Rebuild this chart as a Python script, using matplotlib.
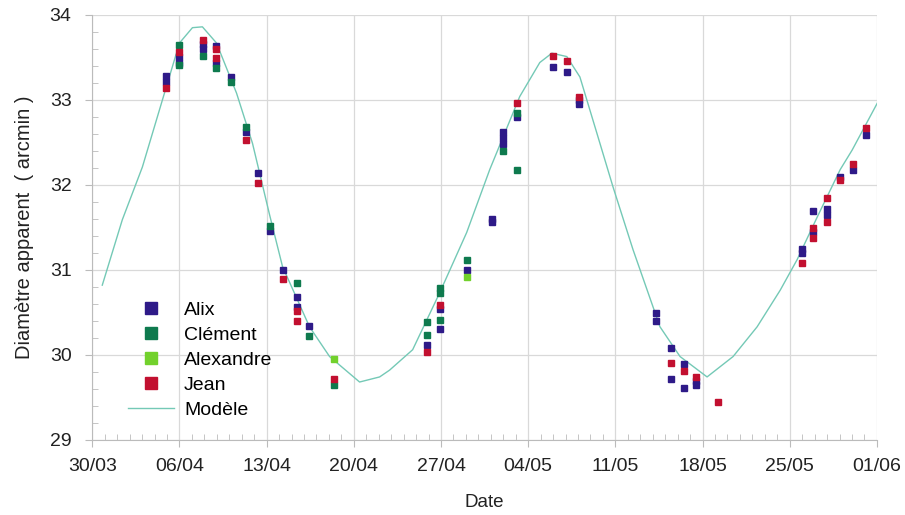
import matplotlib
matplotlib.use("Agg")
import matplotlib.pyplot as plt
from matplotlib.ticker import MultipleLocator

plt.rcParams['font.family'] = ['Liberation Sans', 'DejaVu Sans']

# x values: days since 30/03
date_labels = ["30/03", "06/04", "13/04", "20/04", "27/04", "04/05", "11/05", "18/05", "25/05", "01/06"]
date_ticks = [0, 7, 14, 21, 28, 35, 42, 49, 56, 63]

alix_x = [5.95, 5.95, 6.95, 6.95, 8.9, 8.9, 9.95, 9.95, 11.1, 12.3, 13.3, 14.3, 15.3, 16.4, 16.4, 17.4,
          26.9, 27.9, 27.9, 30.1, 32.1, 32.1, 33.0, 33.0, 33.0, 34.1, 37.0, 38.1, 39.1, 39.1,
          45.3, 45.3, 46.5, 46.5, 47.5, 47.5, 48.5, 48.5, 57.0, 57.0, 57.9, 57.9, 59.0, 59.0, 60.0, 61.1, 62.1]
alix_y = [33.28, 33.21, 33.50, 33.44, 33.66, 33.60, 33.64, 33.44, 33.27, 32.62, 32.14, 31.46, 31.00, 30.68, 30.56, 30.34,
          30.12, 30.54, 30.30, 31.00, 31.60, 31.56, 32.62, 32.55, 32.48, 32.80, 33.39, 33.33, 33.00, 32.95,
          30.49, 30.40, 30.08, 29.72, 29.89, 29.61, 29.69, 29.64, 31.25, 31.20, 31.69, 31.44, 31.72, 31.65, 32.09, 32.18, 32.59]

clement_x = [6.95, 6.95, 8.9, 9.95, 11.1, 12.3, 14.3, 16.4, 17.4, 19.4,
             26.9, 26.9, 27.9, 27.9, 27.9, 30.1, 33.0, 34.1, 34.1]
clement_y = [33.65, 33.41, 33.52, 33.38, 33.21, 32.68, 31.52, 30.85, 30.22, 29.65,
             30.39, 30.23, 30.79, 30.73, 30.41, 31.12, 32.40, 32.85, 32.17]

alexandre_x = [19.4, 30.1]
alexandre_y = [29.95, 30.92]

jean_x = [5.95, 6.95, 8.9, 9.95, 9.95, 12.3, 13.3, 15.3, 16.4, 16.4, 19.4,
          26.9, 27.9, 34.1, 37.0, 38.1, 39.1,
          46.5, 47.5, 48.5, 50.2, 57.0, 57.9, 57.9, 59.0, 59.0, 60.0, 61.1, 62.1]
jean_y = [33.14, 33.56, 33.70, 33.60, 33.49, 32.53, 32.02, 30.89, 30.51, 30.40, 29.71,
          30.03, 30.59, 32.96, 33.52, 33.46, 33.04,
          29.90, 29.81, 29.74, 29.45, 31.08, 31.49, 31.38, 31.84, 31.56, 32.06, 32.25, 32.67]

model_x = [0.8, 2.41, 4.02, 5.63, 7.0, 8.04, 8.84, 9.97, 11.58, 12.86, 14.23, 15.27, 17.44, 19.05,
           21.46, 23.07, 23.87, 25.72, 27.89, 30.06, 31.91, 34.32, 35.93, 36.9, 38.1, 39.15, 40.51,
           41.8, 43.41, 45.58, 47.19, 49.36, 51.45, 53.38, 55.23, 56.59, 58.2, 60.05, 61.01, 63.02]
model_y = [30.82, 31.59, 32.21, 33.0, 33.67, 33.85, 33.86, 33.67, 33.08, 32.49, 31.65, 31.04, 30.33, 29.98,
           29.68, 29.74, 29.82, 30.06, 30.73, 31.44, 32.18, 33.04, 33.44, 33.55, 33.51, 33.27, 32.61,
           31.98, 31.24, 30.33, 29.98, 29.74, 29.98, 30.33, 30.76, 31.12, 31.62, 32.18, 32.41, 32.96]

fig = plt.figure(figsize=(9.05, 5.15), dpi=100)
ax = fig.add_axes([0.102, 0.146, 0.867, 0.825])

ms = 5
ax.plot(alix_x, alix_y, 's', color='#2e1a88', ms=ms, label='Alix', zorder=3)
ax.plot(clement_x, clement_y, 's', color='#0e7a4e', ms=ms, label='Clément', zorder=3)
ax.plot(alexandre_x, alexandre_y, 's', color='#72d12c', ms=ms, label='Alexandre', zorder=3)
ax.plot(jean_x, jean_y, 's', color='#c21030', ms=ms, label='Jean', zorder=3)
ax.plot(model_x, model_y, '-', color='#74c9b6', lw=1.0, label='Modèle', zorder=2)

ax.set_xlim(0, 63)
ax.set_ylim(29, 34)
ax.set_xticks(date_ticks)
ax.set_xticklabels(date_labels)
ax.xaxis.set_minor_locator(MultipleLocator(1))
ax.yaxis.set_major_locator(MultipleLocator(1))
ax.yaxis.set_minor_locator(MultipleLocator(0.2))

ax.grid(True, which='major', color='#d9d9d9', lw=0.9)
for s in ['top', 'right']:
    ax.spines[s].set_visible(False)
for s in ['left', 'bottom']:
    ax.spines[s].set_color('#bbbbbb')
ax.tick_params(which='major', length=5, color='#bbbbbb', labelsize=14, labelcolor='#222222')
ax.tick_params(which='minor', direction='in', length=4, color='#bbbbbb')
ax.tick_params(axis='x', pad=8)
ax.tick_params(axis='y', pad=10)

ax.set_xlabel('Date', fontsize=13.5, color='#222222', labelpad=14)
ax.set_ylabel('Diamètre apparent  ( arcmin )', fontsize=14.5, color='#222222', labelpad=11)

leg = ax.legend(loc='upper left', bbox_to_anchor=(0.035, 0.345), frameon=False, fontsize=14,
                handlelength=2.4, handletextpad=0.5, labelspacing=0.38, markerscale=1.6,
                borderaxespad=0)
fig.savefig('out.png', dpi=100)
